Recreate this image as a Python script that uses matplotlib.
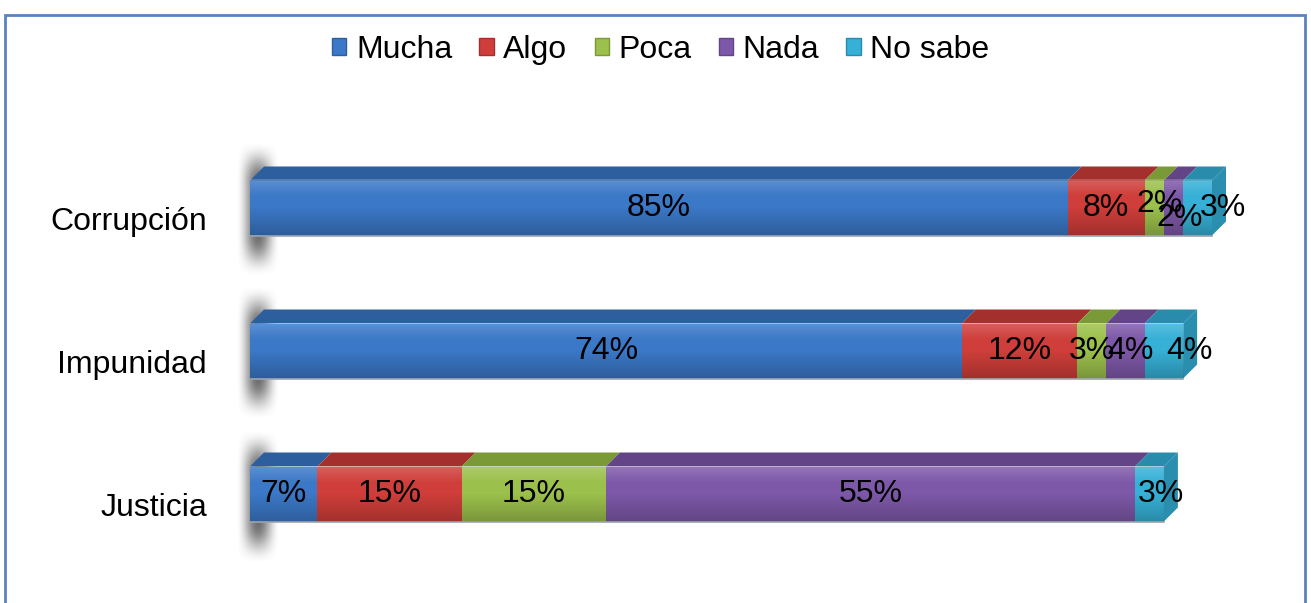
import matplotlib.pyplot as plt
import numpy as np
from matplotlib.patches import Polygon, Rectangle, Patch

categories = ['Justicia', 'Impunidad', 'Corrupción']
series = ['Mucha', 'Algo', 'Poca', 'Nada', 'No sabe']
values = {
    'Mucha':   [7, 74, 85],
    'Algo':    [15, 12, 8],
    'Poca':    [15, 3, 2],
    'Nada':    [55, 4, 2],
    'No sabe': [3, 4, 3],
}
front_colors = ['#3B78C7', '#CF3E3A', '#9BC04B', '#7E58A8', '#36B0D6']
top_colors = ['#2D5F9E', '#A3302C', '#7A9A38', '#634486', '#2A8CAD']
side_color = '#2A8FAF'

# label nudges in pixels (dx, dy) for the crowded small segments
label_nudge = {
    ('Corrupción', 'Poca'): (5, 4),
    ('Corrupción', 'Nada'): (6, -10),
    ('Corrupción', 'No sabe'): (25, 0),
    ('Impunidad', 'Nada'): (5, 0),
    ('Impunidad', 'No sabe'): (26, 0),
    ('Justicia', 'No sabe'): (11, 0),
}

W, H = 1311, 603
FS = 23
FONT = 'Liberation Sans'

fig = plt.figure(figsize=(W / 100, H / 100), dpi=100)
ax = fig.add_axes([0, 0, 1, 1])
ax.axis('off')

px_per_x = 9.62        # pixels per percent
px_per_y = 143.0       # pixels per category
x0_px = 250
xlim = (-x0_px / px_per_x, (W - x0_px) / px_per_x)
ylim = ((494 - H) / px_per_y, 494 / px_per_y)

bar_h = 55 / px_per_y
dx = 14 / px_per_x
dy = 14 / px_per_y
ypos = np.arange(len(categories))


def smooth_edge(n, ramp):
    u = np.linspace(0, 1, n)
    a = np.clip(u / ramp, 0, 1) * np.clip((1 - u) / ramp, 0, 1)
    return a * a * (3 - 2 * a)


# soft blurred shadow behind the left end of each bar
sx = smooth_edge(80, 0.5)
sy = smooth_edge(160, 0.3)
shadow = np.zeros((160, 80, 4))
shadow[..., :3] = 0.25
shadow[..., 3] = np.outer(sy, sx) * 0.75
for y in ypos:
    ax.imshow(shadow, extent=(-14 / px_per_x, 30 / px_per_x,
                              y - bar_h / 2 - 42 / px_per_y,
                              y + bar_h / 2 + dy + 24 / px_per_y),
              aspect='auto', interpolation='bilinear', zorder=1)

# vertical shading for the front faces
t = np.linspace(0, 1, 50)
shade = np.zeros((50, 2, 4))
light = np.clip(1 - t / 0.3, 0, 1) * 0.18
dark = np.clip((t - 0.5) / 0.5, 0, 1) * 0.22
shade[..., :3] = np.where(light > 0, 1.0, 0.0)[:, None, None]
shade[..., 3] = (light + dark)[:, None]

left = np.zeros(len(categories))
for i, s in enumerate(series):
    v = np.array(values[s], dtype=float)
    ax.barh(ypos, v, left=left, height=bar_h, color=front_colors[i],
            edgecolor='none', zorder=3)
    for j, y in enumerate(ypos):
        x1, x2 = left[j], left[j] + v[j]
        top = y + bar_h / 2
        ax.add_patch(Polygon([[x1, top], [x2, top], [x2 + dx, top + dy],
                              [x1 + dx, top + dy]], closed=True,
                             facecolor=top_colors[i], edgecolor='none',
                             zorder=3))
    left += v

# shading, bottom rim and right end faces
for j, y in enumerate(ypos):
    xe = left[j]
    bot, top = y - bar_h / 2, y + bar_h / 2
    ax.imshow(shade, extent=(0, xe, bot, top), aspect='auto',
              interpolation='bilinear', zorder=4)
    ax.plot([0, xe], [bot, bot], color='#9aa3ad', linewidth=1.2, zorder=4)
    ax.add_patch(Polygon([[xe, bot], [xe, top], [xe + dx, top + dy],
                          [xe + dx, bot + dy]], closed=True,
                         facecolor=side_color, edgecolor='none', zorder=3))

# data labels
left = np.zeros(len(categories))
for i, s in enumerate(series):
    v = np.array(values[s], dtype=float)
    for j, y in enumerate(ypos):
        nx, ny = label_nudge.get((categories[j], s), (0, 0))
        ax.annotate(f'{int(v[j])}%', xy=(left[j] + v[j] / 2, y),
                    xytext=(nx, ny), textcoords='offset pixels',
                    ha='center', va='center', fontsize=FS,
                    family=FONT, color='black', zorder=6)
    left += v

# category labels
for j, y in enumerate(ypos):
    ax.annotate(categories[j], xy=(0, y), xytext=(-43, -14),
                textcoords='offset pixels', ha='right', va='center',
                fontsize=FS, family=FONT, color='black')

ax.set_xlim(*xlim)
ax.set_ylim(*ylim)

handles = [Patch(facecolor=c, edgecolor=t, linewidth=1)
           for c, t in zip(front_colors, top_colors)]
fig.legend(handles, series, loc='center', bbox_to_anchor=(0.504, 1 - 50 / H),
           ncol=5, frameon=False, handlelength=0.45, handleheight=0.45,
           handletextpad=0.3, columnspacing=0.85,
           prop={'family': FONT, 'size': FS})

# chart border
fig.add_artist(Rectangle((5 / W, -0.01), 1300 / W, 1 - 15 / H + 0.01,
                         transform=fig.transFigure, fill=False,
                         edgecolor='#5B82C0', linewidth=2))

fig.savefig('out.png', dpi=100)
